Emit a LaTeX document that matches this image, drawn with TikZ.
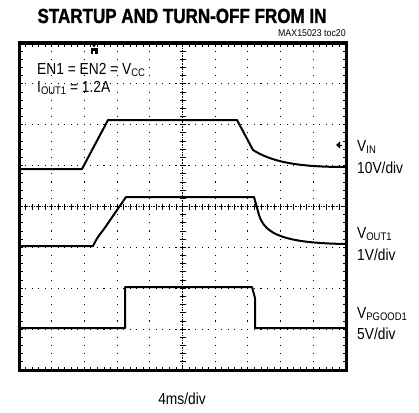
\documentclass[tikz,border=0pt]{standalone}
\usepackage{fontspec}
\setmainfont{Liberation Sans}[FakeStretch=0.86]
\newfontfamily\titlefont{Liberation Sans Bold}[FakeStretch=0.83, FakeBold=1.2]
\newfontfamily\tocfont{Liberation Sans}[FakeStretch=0.9]
\usetikzlibrary{calc}

\newcommand{\lowsub}[1]{\raisebox{-0.3ex}{\fontsize{11}{12}\selectfont #1}}

\tikzset{
  lbl/.style={anchor=base west, inner sep=0pt, font=\fontsize{16}{18}\selectfont},
  griddot/.style={line width=1.1pt, dash pattern=on 1.1pt off #1},
  trace/.style={line width=2pt, line join=round},
  framebox/.style={line width=3pt}
}

\begin{document}
\begin{tikzpicture}[x=1pt, y=-1pt]
	\useasboundingbox (0,0) rectangle (419,412);
	% scope area: 10 x 8 divisions
	\def\xa{19} \def\xb{346} \def\ya{43} \def\yb{370}
	\def\dx{32.7} \def\dy{40.875}

	% dotted grid
	\foreach \i in {1,2,3,4,6,7,8,9}
		\draw[griddot=7.075pt] ($(\xa+\i*\dx,\ya+8.175-0.55)$) -- (\xa+\i*\dx,\yb);
	\foreach \j in {1,2,3,5,6,7}
		\draw[griddot=5.44pt] ($(\xa+6.54-0.55,\ya+\j*\dy)$) -- (\xb,\ya+\j*\dy);

	% centre axes with minor ticks
	\draw[line width=0.9pt, dash pattern=on 0.8pt off 0.85pt] (\xa+5*\dx,\ya) -- (\xa+5*\dx,\yb);
	\draw[line width=0.9pt, dash pattern=on 0.8pt off 0.85pt] (\xa,\ya+4*\dy) -- (\xb,\ya+4*\dy);
	\foreach \k in {1,...,39}
		\draw[line width=0.9pt] (\xa+5*\dx-3,\ya+\k*8.175) -- (\xa+5*\dx+3,\ya+\k*8.175);
	\foreach \k in {1,...,49}
		\draw[line width=0.9pt] (\xa+\k*6.54,\ya+4*\dy-3) -- (\xa+\k*6.54,\ya+4*\dy+3);

	% minor ticks along the frame
	\foreach \k in {1,...,49} {
		\draw[line width=0.9pt] (\xa+\k*6.54,\ya) -- (\xa+\k*6.54,\ya+3.5);
		\draw[line width=0.9pt] (\xa+\k*6.54,\yb) -- (\xa+\k*6.54,\yb-3.5);
	}
	\foreach \k in {1,...,39} {
		\draw[line width=0.9pt] (\xa,\ya+\k*8.175) -- (\xa+3.5,\ya+\k*8.175);
		\draw[line width=0.9pt] (\xb,\ya+\k*8.175) -- (\xb-3.5,\ya+\k*8.175);
	}

	% traces
	\draw[trace] (\xa,169) -- (82,169) -- (108,120) -- (237,120) -- (253,150)
		.. controls (272,162) and (298,167) .. (\xb,167);
	\draw[trace] (\xa,246) -- (93,246) .. controls (97,238) .. (104,229) -- (126,197)
		-- (254,197) -- (259,215) .. controls (265,235) and (286,243) .. (\xb,244);
	\draw[trace] (\xa,328) -- (125,328) -- (125,287) -- (252,287) -- (255,298)
		-- (255,328) -- (\xb,328);

	% trigger and channel markers
	\fill (91,43) -- (97,43) -- (94,47.5) -- cycle;
	\fill (90.5,48) rectangle (97.5,54);
	\fill[white] (92.8,50.5) rectangle (95.2,54);
	\draw[line width=1pt] (337,145) -- (342,145);
	\fill (336,145) -- (340,141.5) -- (340,148.5) -- cycle;

	\draw[framebox] (\xa,\ya) rectangle (\xb,\yb);

	% texts
	\node[anchor=base, inner sep=0pt, font=\titlefont\fontsize{20.5}{22}\selectfont] (title) at (182,23) {STARTUP AND TURN-OFF FROM IN};
	\node[anchor=base east, inner sep=0pt, font=\tocfont\fontsize{9.8}{11}\selectfont] (toc) at (\xb,37) {MAX15023 toc20};
	\node[lbl] (en) at (37,74) {EN1 = EN2 = V\lowsub{CC}};
	\node[lbl] (iout) at (37,92) {I\lowsub{OUT1} = 1.2A};
	\node[lbl] (vin) at (357,151) {V\lowsub{IN}};
	\node[lbl] (vinsc) at (357,173) {10V/div};
	\node[lbl] (vout) at (357,238) {V\lowsub{OUT1}};
	\node[lbl] (voutsc) at (357,260) {1V/div};
	\node[lbl] (vpg) at (357,318) {V\lowsub{PGOOD1}};
	\node[lbl] (vpgsc) at (357,339) {5V/div};
	\node[anchor=base, inner sep=0pt, font=\fontsize{16}{18}\selectfont] (tdiv) at (182,404) {4ms/div};
\end{tikzpicture}
\end{document}
